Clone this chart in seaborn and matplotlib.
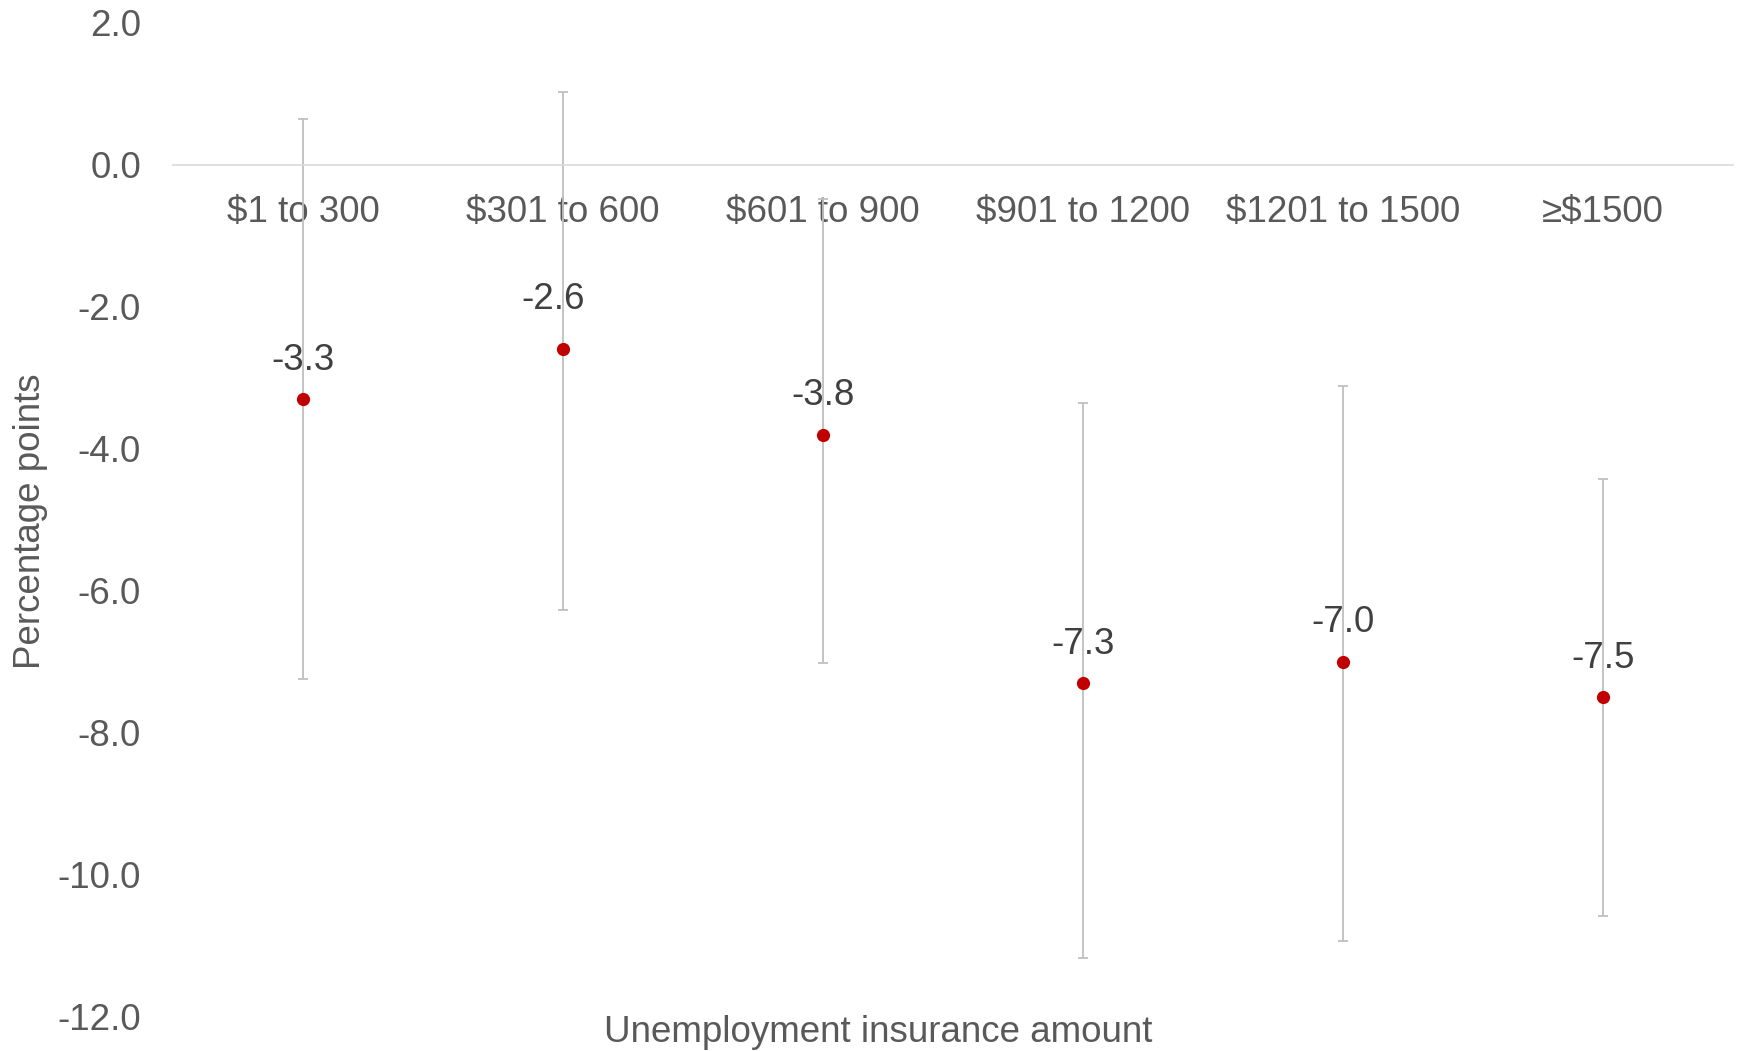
import numpy as np
import pandas as pd
import matplotlib
matplotlib.use("Agg")
import matplotlib.pyplot as plt
import seaborn as sns

# Categories and estimates (percentage points) with 95% confidence bounds
categories = ["$1 to 300", "$301 to 600", "$601 to 900",
              "$901 to 1200", "$1201 to 1500", "≥$1500"]
estimates = [-3.3, -2.6, -3.8, -7.3, -7.0, -7.5]
lower_bound = [-7.24, -6.27, -7.02, -11.17, -10.94, -10.58]
upper_bound = [0.65, 1.03, -0.48, -3.36, -3.12, -4.43]
y_ticks = [2.0, 0.0, -2.0, -4.0, -6.0, -8.0, -10.0, -12.0]

sns.set_theme(style="white")
plt.rcParams["font.family"] = ["Liberation Sans", "DejaVu Sans"]

df = pd.DataFrame({"amount": categories, "effect": estimates,
                   "lo": lower_bound, "hi": upper_bound})

W, H = 1742, 1051
fig = plt.figure(figsize=(W / 100, H / 100), dpi=100)
ax = fig.add_axes([173 / W, 1 - 1016.6 / H, 1560 / W, (1016.6 - 23) / H])

# Confidence intervals behind the points
xpos = np.arange(len(df))
ax.errorbar(xpos, df["effect"],
            yerr=[df["effect"] - df["lo"], df["hi"] - df["effect"]],
            fmt="none", ecolor="#bfbfbf", elinewidth=1.3,
            capsize=3.6, capthick=1.3, zorder=1)

sns.pointplot(data=df, x="amount", y="effect", order=categories,
              errorbar=None, linestyle="none", markers="o",
              color="#c00000", markersize=9.5, markeredgewidth=0,
              ax=ax, zorder=3)

# Value labels above each point (second label sits a little higher/left)
label_nudge = {1: (-7, 8)}
for i, v in enumerate(df["effect"]):
    dx, dy = label_nudge.get(i, (0, 0))
    ax.annotate(f"{v:.1f}", (i, v), xytext=(dx, 28 + dy),
                textcoords="offset points", ha="center", va="center",
                fontsize=26.5, color="#404040")

ax.set_xlim(-0.5, len(categories) - 0.5)
ax.set_ylim(-12, 2)
ax.set_yticks(y_ticks)
ax.set_yticklabels([f"{t:.1f}" for t in y_ticks])
ax.set_xlabel("")
ax.set_ylabel("")

for side in ["left", "right", "top"]:
    ax.spines[side].set_visible(False)
ax.spines["bottom"].set_position(("data", 0))
ax.spines["bottom"].set_color("#d9d9d9")
ax.spines["bottom"].set_linewidth(1.2)

ax.tick_params(axis="x", length=0, pad=22, labelsize=26.5, labelcolor="#595959")
ax.tick_params(axis="y", length=0, pad=23, labelsize=26.5, labelcolor="#595959")
ax.grid(False)

fig.text(878 / W, 1 - 1032 / H, "Unemployment insurance amount",
         ha="center", va="center", fontsize=26.5, color="#595959")
fig.text(30.5 / W, 1 - 521 / H, "Percentage points", rotation=90,
         ha="center", va="center", fontsize=26.5, color="#595959")

fig.savefig("out.png", dpi=100, facecolor="white")
